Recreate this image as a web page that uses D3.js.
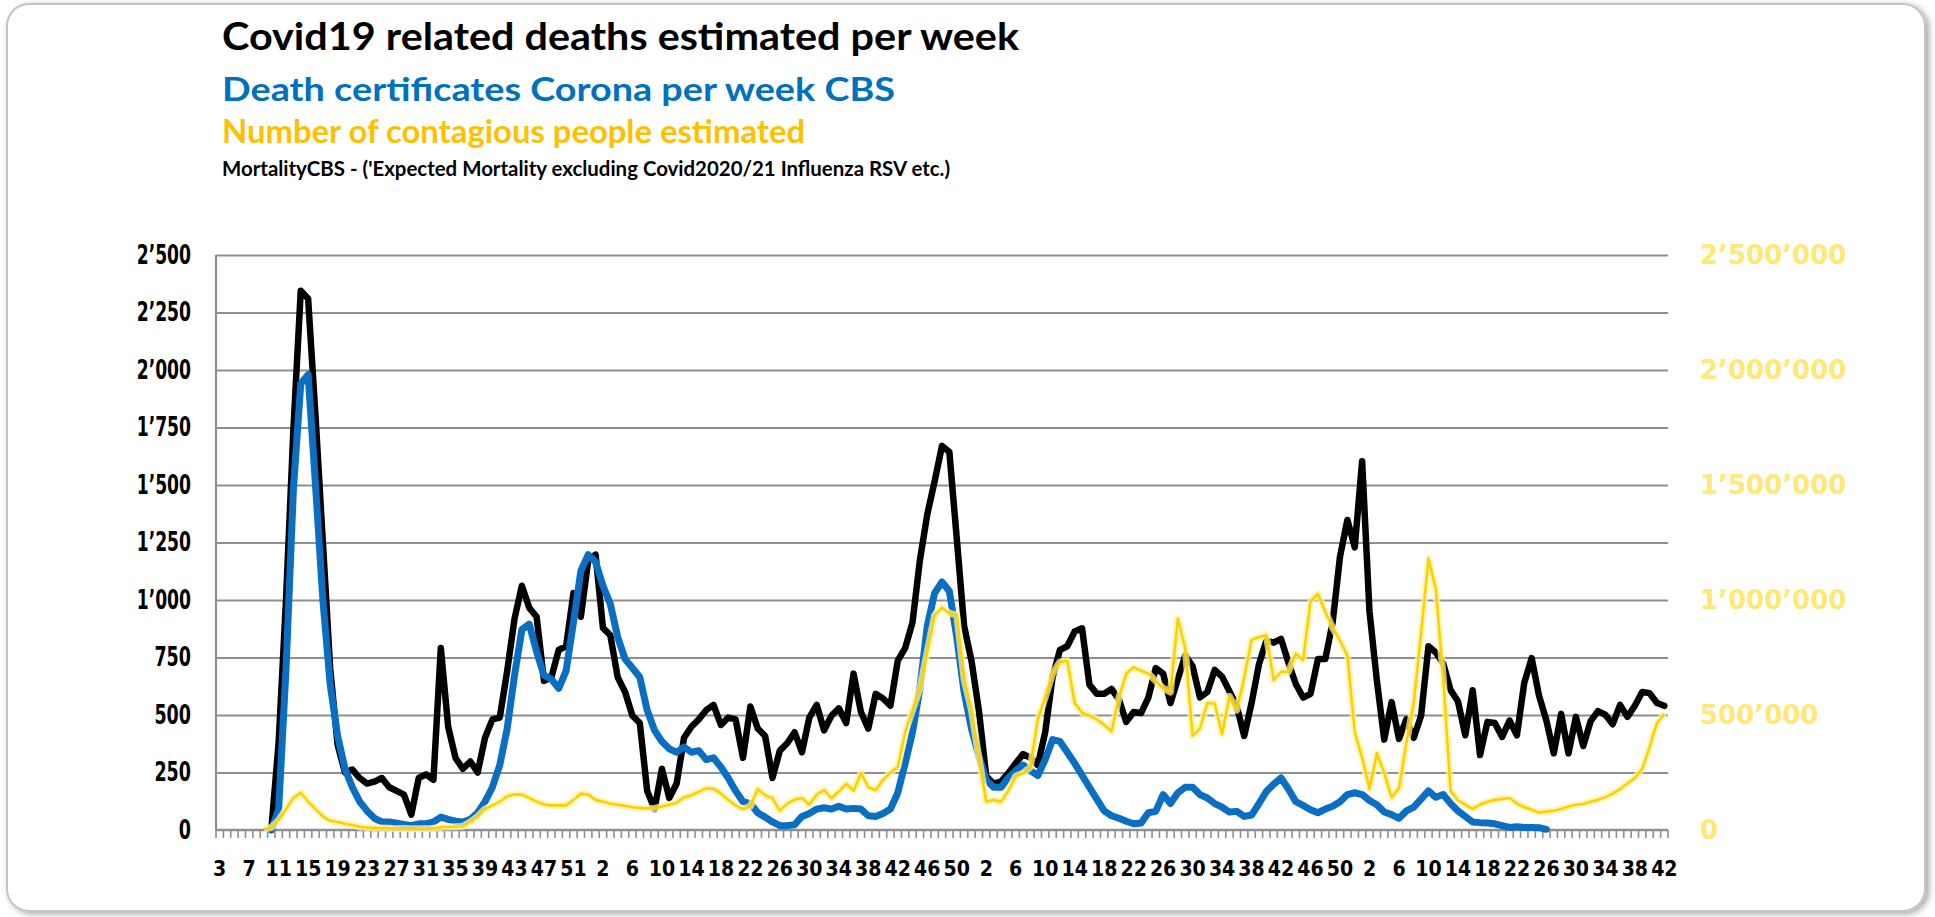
<!DOCTYPE html>
<html>
<head>
<meta charset="utf-8">
<script src="https://cdn.jsdelivr.net/npm/d3@7"></script>
<style>
  html, body { margin: 0; padding: 0; background: #ffffff; }
  svg { display: block; }
</style>
</head>
<body>
<svg id="chart" width="1935" height="917"></svg>
<script>
// ---------------- DATA ----------------
// ISO-week segments: [year, first week, last week]
const weekRanges = [[2020, 3, 53], [2021, 1, 52], [2022, 1, 52], [2023, 1, 42]];

// Titles
const titles = [
  "Covid19 related deaths estimated per week",
  "Death certificates Corona per week CBS",
  "Number of contagious people estimated",
  "MortalityCBS - ('Expected Mortality excluding Covid2020/21 Influenza RSV etc.)"
];

// Left axis ticks (deaths per week) and right axis ticks (contagious people)
const leftTicks = [0, 250, 500, 750, 1000, 1250, 1500, 1750, 2000, 2250, 2500];
const rightTicks = [0, 500000, 1000000, 1500000, 2000000, 2500000];

// Covid19 related deaths estimated per week (black)
const estimatedDeaths = [
  null, null, null, null, null, null, null, 0, 380, 1000,
  1740, 2345, 2310, 1800, 1250, 700, 370, 250, 263, 226,
  202, 210, 226, 186, 170, 154, 67, 226, 242, 218,
  791, 449, 313, 266, 298, 250, 401, 481, 489, 690,
  918, 1062, 966, 927, 648, 664, 783, 799, 1030, 927,
  1173, 1197, 879, 847, 664, 600, 497, 465, 170, 91,
  266, 139, 202, 401, 449, 481, 521, 544, 457, 489,
  481, 314, 537, 441, 409, 226, 345, 377, 425, 338,
  489, 544, 433, 497, 529, 465, 680, 513, 441, 592,
  572, 540, 736, 791, 903, 1173, 1372, 1516, 1670, 1643,
  1269, 887, 736, 521, 234, 202, 210, 247, 290, 330,
  314, 282, 425, 664, 783, 799, 863, 877, 632, 592,
  592, 613, 568, 470, 513, 508, 576, 704, 680, 552,
  656, 759, 712, 576, 600, 696, 667, 603, 537, 409,
  552, 720, 823, 815, 831, 728, 635, 576, 592, 743,
  743, 903, 1189, 1348, 1229, 1603, 950, 650, 393, 556,
  396, 481, 401, 497, 799, 772, 724, 608, 560, 412,
  608, 326, 470, 465, 405, 476, 412, 640, 747, 584,
  476, 333, 505, 333, 492, 365, 473, 517, 501, 460,
  544, 492, 540, 600, 595, 552, 540
];

// Death certificates Corona per week CBS (blue)
const certificateDeaths = [
  null, null, null, null, null, null, null, 0, 90, 700,
  1480, 1940, 1980, 1500, 1000, 630, 410, 266, 186, 123,
  83, 51, 35, 35, 30, 24, 19, 27, 27, 35,
  56, 46, 38, 35, 46, 75, 123, 186, 282, 440,
  672, 871, 895, 775, 672, 656, 616, 692, 903, 1126,
  1197, 1165, 1062, 982, 839, 743, 704, 664, 521, 433,
  385, 353, 338, 361, 338, 345, 306, 314, 274, 226,
  170, 123, 115, 75, 56, 35, 19, 19, 23, 59,
  72, 91, 97, 91, 103, 91, 94, 91, 62, 59,
  72, 91, 162, 290, 425, 616, 887, 1030, 1078, 1038,
  839, 600, 441, 322, 218, 186, 186, 226, 258, 282,
  258, 237, 306, 393, 385, 338, 290, 238, 186, 134,
  83, 62, 51, 38, 27, 30, 75, 81, 154, 115,
  162, 186, 186, 154, 139, 115, 99, 78, 81, 59,
  65, 115, 167, 199, 226, 178, 123, 107, 88, 75,
  91, 103, 123, 154, 162, 154, 128, 110, 78, 67,
  51, 83, 99, 134, 170, 142, 154, 115, 83, 59,
  35, 32, 30, 27, 19, 11, 14, 11, 11, 10,
  3, null, null, null, null, null, null, null, null, null,
  null, null, null, null, null, null, null
];

// Number of contagious people estimated, in thousands (yellow, right axis)
const contagiousThousands = [
  null, null, null, null, null, null, 3, 11, 43, 91,
  139, 162, 123, 91, 59, 40, 35, 27, 22, 14,
  11, 10, 9, 8, 6, 6, 5, 5, 6, 8,
  12, 14, 14, 16, 35, 59, 91, 107, 123, 146,
  154, 154, 139, 123, 111, 107, 107, 107, 131, 158,
  154, 131, 123, 115, 110, 105, 99, 96, 94, 94,
  102, 110, 119, 142, 151, 167, 181, 180, 158, 131,
  107, 91, 103, 178, 151, 139, 83, 115, 132, 139,
  110, 154, 175, 139, 167, 201, 170, 247, 186, 174,
  218, 250, 274, 425, 521, 616, 775, 935, 966, 942,
  935, 656, 521, 314, 123, 131, 123, 170, 234, 247,
  274, 481, 576, 680, 731, 736, 552, 510, 497, 481,
  457, 428, 576, 680, 708, 692, 680, 648, 616, 600,
  919, 791, 409, 441, 552, 549, 417, 581, 521, 661,
  826, 839, 847, 651, 688, 688, 767, 739, 995, 1027,
  950, 879, 823, 759, 425, 314, 178, 334, 247, 142,
  181, 377, 552, 855, 1181, 1046, 664, 170, 129, 110,
  91, 111, 123, 131, 135, 139, 115, 99, 88, 75,
  80, 84, 91, 102, 110, 113, 123, 131, 143, 158,
  178, 202, 226, 266, 361, 465, 505
];

// ---------------- BUILD ----------------
const weeks = weekRanges.flatMap(([yr, a, b]) => d3.range(a, b + 1).map(w => ({ year: yr, week: w })));
const idx = weeks.map((d, i) => i);

const plot = { left: 216, right: 1668, top: 255, bottom: 830 };

const svg = d3.select("#chart");

// drop shadow
const defs = svg.append("defs");
const f = defs.append("filter").attr("id", "shadow").attr("x", "-5%").attr("y", "-5%").attr("width", "110%").attr("height", "110%");
f.append("feDropShadow").attr("dx", 3).attr("dy", 2).attr("stdDeviation", 3).attr("flood-color", "#000").attr("flood-opacity", 0.35);

svg.append("rect").attr("x", 7).attr("y", 4).attr("width", 1918).attr("height", 907)
  .attr("rx", 22).attr("ry", 22).attr("fill", "#fff").attr("stroke", "#c4c4c4").attr("stroke-width", 2)
  .attr("filter", "url(#shadow)");

const locale = d3.formatLocale({ decimal: ".", thousands: "\u2019", grouping: [3], currency: ["", ""] });
const fmt = locale.format(",d");

const x = d3.scaleBand().domain(idx).range([plot.left, plot.right]).padding(0);
const bw = x.bandwidth();
const cx = i => x(i) + bw / 2;
const yL = d3.scaleLinear().domain([0, 2500]).range([plot.bottom, plot.top]);
const yR = d3.scaleLinear().domain([0, 2500000]).range([plot.bottom, plot.top]);

// gridlines
svg.append("g").attr("class", "grid")
  .attr("transform", `translate(${plot.left},0)`)
  .call(d3.axisLeft(yL).tickValues(leftTicks.filter(v => v > 0)).tickSize(-(plot.right - plot.left)).tickFormat(""))
  .call(g => g.select(".domain").remove())
  .call(g => g.selectAll("line").attr("stroke", "#8f8f8f").attr("stroke-width", 2.2));

// left vertical axis line
svg.append("line").attr("x1", plot.left).attr("x2", plot.left).attr("y1", plot.top).attr("y2", plot.bottom)
  .attr("stroke", "#8f8f8f").attr("stroke-width", 2.2);

// x axis with weekly tick marks at category boundaries
const xAxisG = svg.append("g").attr("transform", `translate(0,${plot.bottom})`);
xAxisG.append("line").attr("x1", plot.left).attr("x2", plot.right).attr("y1", 0).attr("y2", 0)
  .attr("stroke", "#8f8f8f").attr("stroke-width", 2.5);
xAxisG.selectAll("line.tk").data(d3.range(idx.length + 1)).join("line").attr("class", "tk")
  .attr("x1", i => plot.left + i * bw).attr("x2", i => plot.left + i * bw)
  .attr("y1", 0).attr("y2", 8).attr("stroke", "#8f8f8f").attr("stroke-width", 1.6);

const xLabelIdx = idx.filter(i => i % 4 === 0);
svg.append("g").attr("transform", `translate(0,${plot.bottom})`)
  .call(d3.axisBottom(x).tickValues(xLabelIdx).tickSize(0).tickPadding(30).tickFormat(i => String(weeks[i].week)))
  .call(g => g.select(".domain").remove())
  .call(g => g.selectAll("text").attr("font-family", "DejaVu Sans").attr("font-weight", "bold")
    .attr("font-size", 22).attr("fill", "#000")
    .attr("lengthAdjust", "spacingAndGlyphs")
    .attr("textLength", function () { return this.textContent.length * 13.2; }));

// left labels
svg.append("g").attr("transform", `translate(${plot.left},0)`)
  .call(d3.axisLeft(yL).tickValues(leftTicks).tickSize(0).tickPadding(25).tickFormat(fmt))
  .call(g => g.select(".domain").remove())
  .call(g => g.selectAll("text").attr("font-family", "DejaVu Sans").attr("font-weight", "bold")
    .attr("font-size", 26).attr("fill", "#000")
    .attr("lengthAdjust", "spacingAndGlyphs")
    .attr("textLength", function () {
      const s = this.textContent;
      const digits = s.replace(/[^0-9]/g, "").length;
      const ap = s.length - digits;
      return digits * 12.2 + ap * 5.5;
    }));

// right labels
svg.append("g").attr("transform", `translate(${plot.right},0)`)
  .call(d3.axisRight(yR).tickValues(rightTicks).tickSize(0).tickPadding(32).tickFormat(fmt))
  .call(g => g.select(".domain").remove())
  .call(g => g.selectAll("text").attr("font-family", "DejaVu Sans").attr("font-weight", "bold")
    .attr("font-size", 26).attr("fill", "#FFE874"));

// series
const lineL = d3.line().defined(d => d.v != null).x(d => cx(d.i)).y(d => yL(d.v));
const lineR = d3.line().defined(d => d.v != null).x(d => cx(d.i)).y(d => yR(d.v * 1000));

const blackData = estimatedDeaths.map((v, i) => ({ i, v }));
const blueData = certificateDeaths.map((v, i) => ({ i, v }));
const yellowData = contagiousThousands.map((v, i) => ({ i, v }));

svg.append("path").datum(blackData).attr("d", lineL).attr("fill", "none")
  .attr("stroke", "#000").attr("stroke-width", 6.5).attr("stroke-linejoin", "round").attr("stroke-linecap", "round");
svg.append("path").datum(blueData).attr("d", lineL).attr("fill", "none")
  .attr("stroke", "#0A6FC2").attr("stroke-width", 7).attr("stroke-linejoin", "round").attr("stroke-linecap", "round");
svg.append("path").datum(yellowData).attr("d", lineR).attr("fill", "none")
  .attr("stroke", "#FFF3A6").attr("stroke-width", 7).attr("stroke-opacity", 0.75).attr("stroke-linejoin", "round");
svg.append("path").datum(yellowData).attr("d", lineR).attr("fill", "none")
  .attr("stroke", "#FFD000").attr("stroke-width", 2.6).attr("stroke-linejoin", "round");

// titles
const titleSpec = [
  { y: 50, size: 38, len: 797, color: "#000000" },
  { y: 101, size: 33, len: 673, color: "#0070C0" },
  { y: 143, size: 33, len: 583, color: "#FFC000" },
  { y: 176, size: 20, len: 728, color: "#000000" }
];
svg.append("g").selectAll("text").data(titles).join("text")
  .attr("x", 222).attr("y", (d, i) => titleSpec[i].y)
  .attr("font-family", "Lato, 'Open Sans', sans-serif").attr("font-weight", "bold")
  .attr("font-size", (d, i) => titleSpec[i].size)
  .attr("fill", (d, i) => titleSpec[i].color)
  .attr("textLength", (d, i) => titleSpec[i].len).attr("lengthAdjust", "spacingAndGlyphs")
  .text(d => d);
</script>
</body>
</html>
